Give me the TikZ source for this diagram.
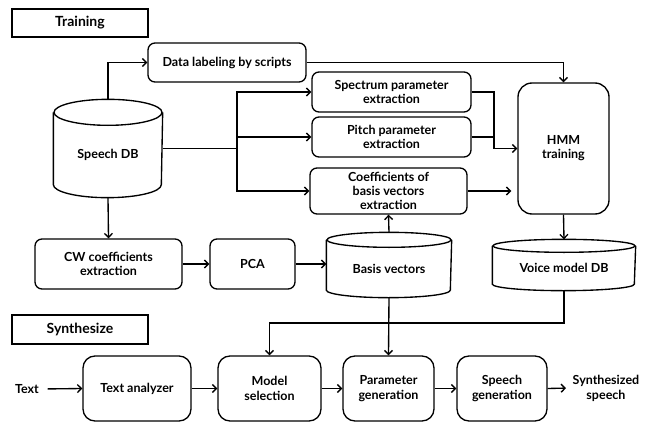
\documentclass[tikz,border=0pt]{standalone}
\usepackage{fontspec}
\setmainfont{Lato}
\usetikzlibrary{arrows.meta}
\tikzset{
	box/.style={draw,rounded corners=7pt,align=center,inner sep=0pt,font=\bfseries\fontsize{12.5}{14}\selectfont},
	bigbox/.style={box,rounded corners=12pt,font=\bfseries\fontsize{12.5}{15}\selectfont},
	title/.style={draw,inner sep=0pt,font=\bfseries\fontsize{14}{17}\selectfont},
	db/.style={inner sep=0pt,align=center,font=\bfseries\fontsize{12.5}{14}\selectfont},
	lbl/.style={align=center,inner sep=2pt,font=\bfseries\fontsize{12.5}{15}\selectfont},
	>={Straight Barb[length=4pt,width=8pt]},
}
% cylinder round a named node: name, x radius, y radius
\newcommand{\dbdraw}[3]{
	\draw ([yshift=-#3pt]#1.north) ellipse [x radius=#2pt,y radius=#3pt];
	\draw ([yshift=-#3pt]#1.north west) -- ([yshift=#3pt]#1.south west)
		arc [start angle=180,end angle=360,x radius=#2pt,y radius=#3pt]
		-- ([yshift=-#3pt]#1.north east);
}
\begin{document}
\begin{tikzpicture}[x=1pt,y=-1pt,line width=1.35pt]
	\useasboundingbox (0,0) rectangle (654,423);
	\node[title,minimum width=136pt,minimum height=28pt] (train) at (80,23) {Training};
	\node[title,minimum width=136pt,minimum height=29pt] (synth) at (80,329.5) {Synthesize};
	\node[box,minimum width=158pt,minimum height=39pt] (label) at (227,62.5) {Data labeling by scripts};
	\node[box,minimum width=159pt,minimum height=40pt] (spec) at (391.5,92) {Spectrum parameter\\extraction};
	\node[box,minimum width=159pt,minimum height=40pt] (pitch) at (391.5,137) {Pitch parameter\\extraction};
	\node[box,minimum width=157pt,minimum height=46pt] (coef) at (388.5,191) {Coefficients of\\basis vectors\\extraction};
	\node[box,rounded corners=14pt,minimum width=91pt,minimum height=131pt] (hmm) at (563.5,148.5) {HMM\\training};
	\node[minimum width=108pt,minimum height=97pt,label={[db,yshift=-6pt]center:Speech DB}] (sdb) at (108,148.5) {};
	\node[box,minimum width=147pt,minimum height=50pt] (cw) at (108.5,264) {CW coefficients\\extraction};
	\node[box,minimum width=85pt,minimum height=50pt] (pca) at (252.5,264) {PCA};
	\node[minimum width=124pt,minimum height=64pt,label={[db,yshift=-4pt]center:Basis vectors}] (basis) at (389,265) {};
	\node[minimum width=142pt,minimum height=50pt,label={[db,yshift=-3pt]center:Voice model DB}] (vdb) at (564,265) {};
	\dbdraw{sdb}{54}{13}
	\dbdraw{basis}{62}{7.5}
	\dbdraw{vdb}{71}{6.5}
	\node[lbl] (txt) at (27,389) {Text};
	\node[bigbox,minimum width=108pt,minimum height=65pt] (ta) at (137,388.5) {Text analyzer};
	\node[bigbox,minimum width=103pt,minimum height=65pt] (ms) at (269.5,388.5) {Model\\selection};
	\node[bigbox,minimum width=91pt,minimum height=65pt] (pg) at (388.5,388.5) {Parameter\\generation};
	\node[bigbox,minimum width=90pt,minimum height=65pt] (sg) at (502,388.5) {Speech\\generation};
	\node[lbl] (out) at (606,388) {Synthesized\\speech};
	\coordinate (split) at (237,148.5);
	\coordinate (merge) at (494,148.5);
	\coordinate (turn) at (564,323);
	\draw[->] (sdb.north) |- (label.west);
	\draw (sdb.east) -- (split);
	\draw[->] (split) |- (spec.west);
	\draw[->] (split) |- (pitch.west);
	\draw[->] (split) |- (coef.west);
	\draw[->] (label.east) -| (hmm.north);
	\draw (spec.east) -| (merge);
	\draw (pitch.east) -| (merge);
	\draw[->] (merge) -- (hmm.west);
	\draw[->,shorten >=6pt] (coef.east) -- (coef.east -| hmm.west);
	\draw[->] (basis.north) -- (coef.south);
	\draw[->] (hmm.south) -- (vdb.north);
	\draw[->] (sdb.south) -- (cw.north);
	\draw[->] (cw.east) -- (pca.west);
	\draw[->] (pca.east) -- (pca.east -| basis.west);
	\draw[->] (vdb.south) -- (turn) -| (ms.north);
	\draw[->] (basis.south) -- (pg.north);
	\draw[->,shorten <=6pt] (txt.east) -- (ta.west);
	\draw[->] (ta.east) -- (ms.west);
	\draw[->] (ms.east) -- (pg.west);
	\draw[->] (pg.east) -- (sg.west);
	\draw[->,shorten >=4pt] (sg.east) -- (out.west);
\end{tikzpicture}
\end{document}
